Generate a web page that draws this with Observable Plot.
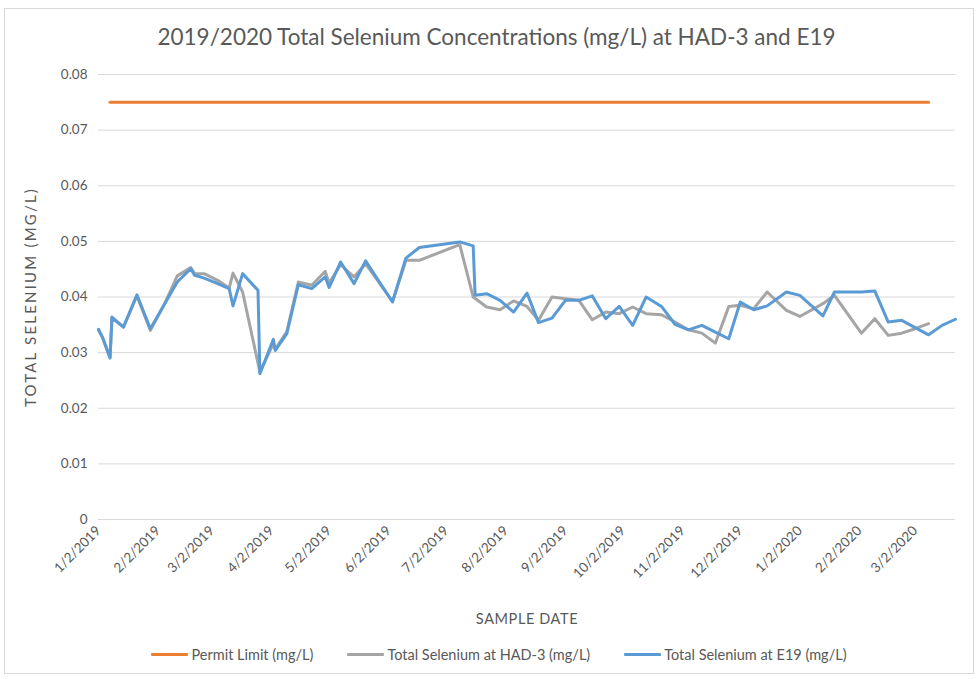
<!DOCTYPE html>
<html>
<head>
<meta charset="utf-8">
<script src="https://cdn.jsdelivr.net/npm/d3@7"></script>
<script src="https://cdn.jsdelivr.net/npm/@observablehq/plot@0.6"></script>
<style>
  html, body { margin: 0; padding: 0; background: #fff; }
  body { font-family: Lato, "Open Sans", sans-serif; color: #595959; }
  #wrap { position: relative; width: 976px; height: 679px; overflow: hidden; }
  #frame { position: absolute; left: 4px; top: 8px; width: 970px; height: 666px; border: 1px solid #d9d9d9; box-sizing: border-box; z-index: 5; pointer-events: none; }
  #title { position: absolute; left: 0; top: 23px; width: 993px; text-align: center; font-size: 22.5px; color: #595959; }
  #chart { position: absolute; left: 0; top: 58px; }
  #ytitle { position: absolute; left: 30px; top: 297px; transform: translate(-50%, -50%) rotate(-90deg); font-size: 15px; white-space: nowrap; letter-spacing: 2.2px; }
  #xtitle { position: absolute; left: 0; width: 1054px; text-align: center; top: 610px; font-size: 14.5px; letter-spacing: 0.6px; }
  #legend { position: absolute; left: 0; top: 646px; width: 976px; display: flex; justify-content: center; gap: 34px; font-size: 14.5px; padding-left: 22px; box-sizing: border-box; }
  .item { display: flex; align-items: center; gap: 3px; }
  .sw { width: 37px; height: 3px; border-radius: 1px; }
</style>
</head>
<body>
<div id="wrap">
  <div id="title"></div>
  <div id="chart"></div>
  <div id="ytitle"></div>
  <div id="xtitle"></div>
  <div id="legend"></div>
  <div id="frame"></div>
</div>
<script>
// ---- Data ----
const chartTitle = "2019/2020 Total Selenium Concentrations (mg/L) at HAD-3 and E19";
const yTitle = "TOTAL SELENIUM (MG/L)";
const xTitle = "SAMPLE DATE";
const seriesNames = ["Permit Limit (mg/L)", "Total Selenium at HAD-3 (mg/L)", "Total Selenium at E19 (mg/L)"];
const seriesColors = ["#ED7D31", "#A5A5A5", "#5B9BD5"];

const permitDates = ["2019-01-08", "2020-03-09"];
const permitValues = [0.075, 0.075];

const had3Dates = [
  "2019-01-02","2019-01-04","2019-01-08","2019-01-09","2019-01-15","2019-01-22","2019-01-29",
  "2019-02-05","2019-02-12","2019-02-19","2019-02-21","2019-02-26","2019-03-05","2019-03-11",
  "2019-03-13","2019-03-18","2019-03-27","2019-04-03","2019-04-04","2019-04-10","2019-04-16",
  "2019-04-23","2019-04-30","2019-05-02","2019-05-08","2019-05-15","2019-05-21","2019-06-04",
  "2019-06-11","2019-06-18","2019-07-09","2019-07-16","2019-07-23","2019-07-30","2019-08-06",
  "2019-08-13","2019-08-19","2019-08-26","2019-09-02","2019-09-09","2019-09-16","2019-09-23",
  "2019-09-30","2019-10-07","2019-10-14","2019-10-22","2019-10-29","2019-11-05","2019-11-12",
  "2019-11-19","2019-11-26","2019-12-02","2019-12-09","2019-12-16","2019-12-26","2020-01-02",
  "2020-01-14","2020-01-20","2020-02-03","2020-02-10","2020-02-17","2020-02-24","2020-03-02",
  "2020-03-09"
];
const had3Values = [
  0.0340,0.0328,0.0292,0.0362,0.0346,0.0402,0.0340,
  0.0385,0.0438,0.0453,0.0442,0.0442,0.0430,0.0416,
  0.0443,0.0409,0.0265,0.0316,0.0306,0.0338,0.0427,
  0.0421,0.0446,0.0425,0.0458,0.0436,0.0460,0.0392,
  0.0466,0.0466,0.0494,0.0400,0.0382,0.0377,0.0393,
  0.0383,0.0358,0.0400,0.0397,0.0394,0.0359,0.0373,
  0.0370,0.0382,0.0370,0.0368,0.0355,0.0341,0.0335,
  0.0317,0.0383,0.0385,0.0379,0.0409,0.0376,0.0365,
  0.0388,0.0403,0.0335,0.0361,0.0331,0.0335,0.0343,
  0.0352
];

const e19Dates = [
  "2019-01-02","2019-01-04","2019-01-08","2019-01-09","2019-01-15","2019-01-22","2019-01-29",
  "2019-02-05","2019-02-12","2019-02-19","2019-02-21","2019-02-26","2019-03-05","2019-03-11",
  "2019-03-13","2019-03-18","2019-03-26","2019-03-27","2019-04-03","2019-04-04","2019-04-10",
  "2019-04-16","2019-04-23","2019-04-30","2019-05-02","2019-05-08","2019-05-15","2019-05-21",
  "2019-06-04","2019-06-11","2019-06-18","2019-07-09","2019-07-16","2019-07-17","2019-07-23",
  "2019-07-30","2019-08-06","2019-08-13","2019-08-19","2019-08-26","2019-09-02","2019-09-09",
  "2019-09-16","2019-09-23","2019-09-30","2019-10-07","2019-10-14","2019-10-22","2019-10-29",
  "2019-11-05","2019-11-12","2019-11-19","2019-11-26","2019-12-02","2019-12-09","2019-12-16",
  "2019-12-26","2020-01-02","2020-01-14","2020-01-20","2020-02-03","2020-02-10","2020-02-17",
  "2020-02-24","2020-03-02","2020-03-09","2020-03-16","2020-03-23"
];
const e19Values = [
  0.0342,0.0328,0.0290,0.0364,0.0346,0.0404,0.0343,
  0.0385,0.0427,0.0451,0.0439,0.0434,0.0424,0.0415,
  0.0384,0.0442,0.0412,0.0262,0.0324,0.0304,0.0334,
  0.0422,0.0415,0.0436,0.0417,0.0463,0.0424,0.0465,
  0.0391,0.0470,0.0489,0.0499,0.0492,0.0403,0.0406,
  0.0394,0.0373,0.0407,0.0354,0.0362,0.0394,0.0394,
  0.0402,0.0361,0.0383,0.0349,0.0400,0.0383,0.0351,
  0.0341,0.0349,0.0337,0.0325,0.0391,0.0377,0.0384,
  0.0409,0.0403,0.0366,0.0409,0.0409,0.0411,0.0355,
  0.0358,0.0345,0.0332,0.0349,0.0360
];

const xTickDates = [
  "2019-01-02","2019-02-02","2019-03-02","2019-04-02","2019-05-02","2019-06-02","2019-07-02",
  "2019-08-02","2019-09-02","2019-10-02","2019-11-02","2019-12-02","2020-01-02","2020-02-02","2020-03-02"
];
const xDomain = ["2019-01-02", "2020-03-23"];
const yTicks = [0, 0.01, 0.02, 0.03, 0.04, 0.05, 0.06, 0.07, 0.08];

// ---- Build ----
const parse = d3.utcParse("%Y-%m-%d");
const toRows = (dates, values) => dates.map((d, i) => ({date: parse(d), value: values[i]}));
const permit = toRows(permitDates, permitValues);
const had3 = toRows(had3Dates, had3Values);
const e19 = toRows(e19Dates, e19Values);
const fmt = d3.utcFormat("%-m/%-d/%Y");

document.getElementById("title").textContent = chartTitle;
document.getElementById("ytitle").textContent = yTitle;
document.getElementById("xtitle").textContent = xTitle;

const plot = Plot.plot({
  width: 976,
  height: 570,
  marginTop: 16,
  marginBottom: 109,
  marginLeft: 98,
  marginRight: 21,
  style: {fontFamily: "Lato, 'Open Sans', sans-serif", fontSize: "13px", color: "#595959", background: "transparent"},
  x: {type: "utc", domain: xDomain.map(parse)},
  y: {domain: [0, 0.08]},
  marks: [
    Plot.gridY(yTicks, {stroke: "#d9d9d9", strokeOpacity: 1, strokeWidth: 1}),
    Plot.axisY(yTicks, {tickSize: 0, tickPadding: 11, tickFormat: d => d === 0 ? "0" : d.toFixed(2), label: null, fill: "#595959", fontSize: 13.5}),
    Plot.axisX(xTickDates.map(parse), {tickSize: 0, tickPadding: 9, tickRotate: -45, tickFormat: fmt, label: null, fill: "#595959", fontSize: 13.5}),
    Plot.line(permit, {x: "date", y: "value", stroke: seriesColors[0], strokeWidth: 3}),
    Plot.line(had3, {x: "date", y: "value", stroke: seriesColors[1], strokeWidth: 3, strokeLinejoin: "round"}),
    Plot.line(e19, {x: "date", y: "value", stroke: seriesColors[2], strokeWidth: 3, strokeLinejoin: "round"})
  ]
});
document.getElementById("chart").appendChild(plot);

const legend = document.getElementById("legend");
seriesNames.forEach((name, i) => {
  const item = document.createElement("div");
  item.className = "item";
  const sw = document.createElement("div");
  sw.className = "sw";
  sw.style.background = seriesColors[i];
  const lab = document.createElement("span");
  lab.textContent = name;
  item.appendChild(sw);
  item.appendChild(lab);
  legend.appendChild(item);
});
</script>
</body>
</html>
